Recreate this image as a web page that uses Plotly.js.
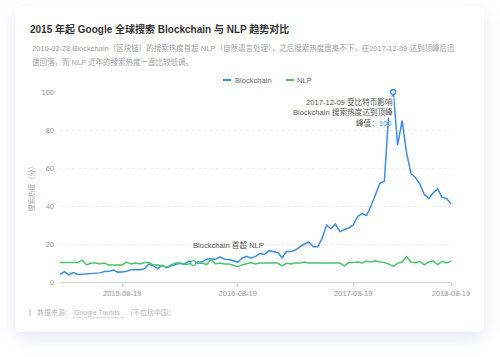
<!DOCTYPE html>
<html>
<head>
<meta charset="utf-8">
<script src="https://cdn.plot.ly/plotly-3.0.1.min.js"></script>
<style>
  html, body { margin: 0; padding: 0; background: #ffffff; width: 500px; height: 357px; overflow: hidden; }
  #card { position: absolute; left: 15px; top: 6px; width: 469px; height: 326px; background: #fff;
          border-radius: 6px; box-shadow: 0 6px 18px rgba(70, 80, 150, 0.13); }
  #chart { position: absolute; left: 0; top: 0; width: 500px; height: 357px; }
</style>
</head>
<body>
<div id="card"></div>
<div id="chart"></div>
<script>
// ---- data (biweekly samples, index = week number) ----
const tickWeeks = [28, 80, 132, 176];
const tickLabels = ["2015-08-19", "2016-08-19", "2017-08-19", "2018-08-19"];

const blockchain = [
  4, 5.4, 3.8, 5, 4, 4.2, 4.5, 4.6, 4.7, 4.8,
  5.5, 5.6, 6.3, 5.2, 5.3, 5.6, 6.4, 6.5, 6.5, 7,
  9.5, 8.5, 7, 8.8, 7.5, 8.5, 9.2, 9.8, 9.5, 11,
  9.8, 10.5, 10.5, 12, 12.2, 12, 13.2, 12, 11.8, 11,
  10.5, 12.5, 13.5, 12.5, 13.5, 15, 14.5, 16.5, 16, 15.5,
  12.8, 16, 16, 16.8, 18.5, 20, 21, 18.5, 18.5, 23,
  30, 28, 30.5, 26.5, 27.5, 28.5, 30, 34.5, 36, 35,
  40, 46, 52, 53, 89, 100, 72, 85, 68, 57,
  55, 51.5, 46, 44, 47, 49, 44.5, 44, 41
];
const nlp = [
  10.2, 10.2, 10.2, 10.2, 10.2, 11.5, 9, 10, 10, 9.5,
  10, 9, 9, 9, 9, 10.5, 9.5, 10, 9.5, 10.2,
  10.2, 9, 9, 8.5, 7.8, 9, 10, 10, 9.2, 9.5,
  10, 9.8, 10, 9.2, 11.8, 9.5, 10, 9.5, 9.5, 8.8,
  8, 9, 9.5, 10.2, 9.5, 10, 10, 10, 10, 10,
  8.5, 9.8, 9.5, 10, 10, 10.5, 10, 10, 10, 10,
  10, 10, 10, 10, 8.5, 10.2, 10.2, 10.5, 10, 11,
  10.5, 11.2, 10.5, 10.2, 9.5, 8.2, 9.8, 10.5, 13.3, 10.5,
  10.2, 10.8, 9, 10.5, 11, 9.2, 10.8, 10, 11
];
const crossIndex = 30;   // 2016-02-28, Blockchain first exceeds NLP
const peakIndex = 75;    // 2017-12-09 peak

const weeks = blockchain.map((_, i) => i * 2);

const BLUE = "#3a8ee6";
const GREEN = "#4cc46b";
const FONT = "Liberation Sans, Arial, 'Noto Sans CJK SC', sans-serif";

// pixel -> paper helpers (plot area: x 60..451, y 92..282)
const L = 60, R = 451, T = 92, B = 282;
const px = x => (x - L) / (R - L);
const py = y => (B - y) / (B - T);

const traces = [
  { x: weeks, y: blockchain, name: "Blockchain", type: "scatter", mode: "lines",
    line: { color: BLUE, width: 1.5 }, cliponaxis: false },
  { x: weeks, y: nlp, name: "NLP", type: "scatter", mode: "lines",
    line: { color: GREEN, width: 1.5 }, cliponaxis: false },
  { x: [weeks[crossIndex]], y: [nlp[crossIndex]], type: "scatter", mode: "markers", showlegend: false,
    marker: { size: 5, color: "#fff", line: { color: GREEN, width: 1.2 } }, cliponaxis: false },
  { x: [weeks[peakIndex]], y: [blockchain[peakIndex]], type: "scatter", mode: "markers", showlegend: false,
    marker: { size: 5, color: "#fff", line: { color: BLUE, width: 1.3 } }, cliponaxis: false }
];

const gray = "#9a9a9a";
const annText = "#555";

const annotations = [
  { text: "2016-02-28 Blockchain（区块链）的搜索热度首超 NLP（自然语言处理），之后搜索热度居高不下，在2017-12-09 达到顶峰后迅",
    x: px(30), y: py(48), xanchor: "left", yanchor: "middle", font: { size: 7.5, color: "#a0a0a0" } },
  { text: "速回落，而 NLP 近年的搜索热度一直比较低调。",
    x: px(30), y: py(62), xanchor: "left", yanchor: "middle", font: { size: 7.5, color: "#a0a0a0" } },
  // legend
  { text: "Blockchain", x: px(233), y: py(80), xanchor: "left", yanchor: "middle", font: { size: 7.6, color: "#666" } },
  { text: "NLP", x: px(295), y: py(80), xanchor: "left", yanchor: "middle", font: { size: 7.6, color: "#666" } },
  // cross annotation
  { text: "Blockchain 首超 NLP", x: px(228.5), y: py(245), xanchor: "center", yanchor: "middle", font: { size: 7.6, color: annText } },
  // peak annotation
  { text: "2017-12-09 受比特币影响", x: px(393.5), y: py(101.7), xanchor: "right", yanchor: "middle",
    bgcolor: "#fff", borderpad: 0, font: { size: 7.6, color: annText } },
  { text: "Blockchain 搜索热度达到顶峰", x: px(393.5), y: py(112.3), xanchor: "right", yanchor: "middle",
    bgcolor: "#fff", borderpad: 0, font: { size: 7.6, color: annText } },
  { text: "峰值：<span style='color:" + BLUE + "'>" + blockchain[peakIndex] + "</span>", x: px(393), y: py(123.3), xanchor: "right", yanchor: "middle", font: { size: 7.6, color: annText } },
  // source
  { text: "数据来源：", x: px(35), y: py(312.7), xanchor: "left", yanchor: "middle", font: { size: 7, color: "#bbb" } },
  { text: "Google Trends", x: px(71.5), y: py(312.7), xanchor: "left", yanchor: "middle", font: { size: 7, color: "#bbb" } },
  { text: "（不包括中国）", x: px(124), y: py(312.7), xanchor: "left", yanchor: "middle", font: { size: 7, color: "#bbb" } }
].map(a => Object.assign({ xref: "paper", yref: "paper", showarrow: false }, a));

const shapes = [
  { type: "line", xref: "paper", yref: "paper", x0: px(223), x1: px(231), y0: py(80), y1: py(80), line: { color: BLUE, width: 2 } },
  { type: "line", xref: "paper", yref: "paper", x0: px(286), x1: px(294), y0: py(80), y1: py(80), line: { color: GREEN, width: 2 } },
  { type: "line", xref: "paper", yref: "paper", x0: px(30), x1: px(30), y0: py(309), y1: py(316), line: { color: "#ccc", width: 1.5 } },
  { type: "line", xref: "paper", yref: "paper", x0: px(72), x1: px(124.5), y0: py(317.8), y1: py(317.8), line: { color: "#ccc", width: 0.8 } }
];

const layout = {
  width: 500, height: 357,
  margin: { l: L, r: 500 - R, t: T, b: 357 - B },
  paper_bgcolor: "rgba(0,0,0,0)",
  plot_bgcolor: "rgba(0,0,0,0)",
  font: { family: FONT, color: gray, size: 7.5 },
  showlegend: false,
  title: {
    text: "<b>2015 年起 Google 全球搜索 Blockchain 与 NLP 趋势对比</b>",
    xref: "container", yref: "container", x: 30 / 500, xanchor: "left",
    y: 1 - 29 / 357, yanchor: "middle",
    font: { size: 10, color: "#333", family: FONT }
  },
  xaxis: {
    range: [0, 176], tickmode: "array", tickvals: tickWeeks, ticktext: tickLabels,
    showgrid: false, zeroline: false, showline: true, linecolor: "#d5d8de", linewidth: 1,
    ticks: "outside", ticklen: 4, tickcolor: "#d5d8de", tickfont: { size: 7.5, color: gray }
  },
  yaxis: {
    range: [0, 100], tickvals: [0, 20, 40, 60, 80, 100], showgrid: true, gridcolor: "#ececec",
    griddash: "dot", zeroline: false, showline: false, ticks: "", ticklabelstandoff: 5,
    tickfont: { size: 7.5, color: gray },
    title: { text: "搜索热度（分）", standoff: 6, font: { size: 7, color: "#aaa" } }
  },
  annotations: annotations,
  shapes: shapes
};

Plotly.newPlot("chart", traces, layout, { displayModeBar: false, staticPlot: true });
</script>
</body>
</html>
